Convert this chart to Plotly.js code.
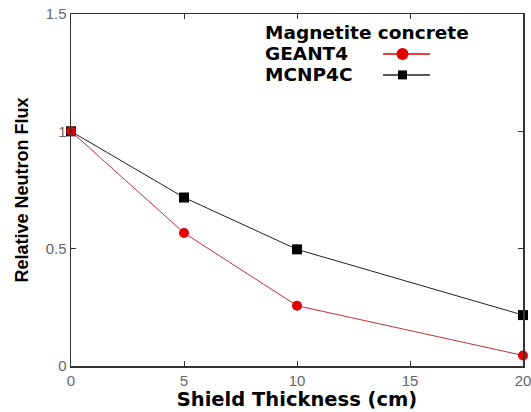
<!DOCTYPE html>
<html><head><meta charset="utf-8">
<script src="https://cdn.plot.ly/plotly-3.0.1.min.js"></script>
<style>html,body{margin:0;padding:0;background:#fff}</style>
</head><body>
<div id="chart" style="width:531px;height:412px"></div>
<script>
const thickness = [0, 5, 10, 20];
const geant4 = [1.0, 0.567, 0.257, 0.045];
const mcnp4c = [1.0, 0.718, 0.497, 0.217];
const xTicks = [0, 5, 10, 15, 20];
const yTicks = [0, 0.5, 1, 1.5];
const yTickText = ['0', '0.5', '1', '1.5'];

const W = 531, H = 412;
const m = {l: 71, r: 8, t: 14, b: 45.5};
const px = x => (x - m.l) / (W - m.l - m.r);
const py = y => 1 - (y - m.t) / (H - m.t - m.b);

const traces = [
  {x: thickness, y: mcnp4c, mode: 'lines+markers', name: 'MCNP4C', cliponaxis: false,
   line: {color: '#222', width: 1}, marker: {symbol: 'square', size: 10, color: '#000'}},
  {x: thickness, y: geant4, mode: 'lines+markers', name: 'GEANT4', cliponaxis: false,
   line: {color: '#c0303a', width: 1}, marker: {symbol: 'circle', size: 10, color: '#e00000'}}
];

const axisCommon = {
  showgrid: false, zeroline: false, showline: true, linecolor: '#333', linewidth: 1.5,
  mirror: 'ticks', ticks: 'inside', ticklen: 5, tickcolor: '#333',
  ticklabeloverflow: 'allow', automargin: false,
  tickfont: {family: 'Liberation Sans, Arial, sans-serif', size: 15, color: '#666'}
};

const legFont = {family: 'DejaVu Sans, sans-serif', size: 18.5, color: '#000', weight: 'bold'};
const layout = {
  width: W, height: H, margin: m, showlegend: false,
  paper_bgcolor: '#fff', plot_bgcolor: '#fff',
  xaxis: Object.assign({}, axisCommon, {range: [0, 20], tickvals: xTicks,
    title: {text: '<b>Shield Thickness (cm)</b>', standoff: 4,
      font: {family: 'DejaVu Sans, sans-serif', size: 19.5, color: '#000'}}}),
  yaxis: Object.assign({}, axisCommon, {range: [0, 1.5], tickvals: yTicks, ticktext: yTickText,
    title: {text: '<b>Relative Neutron Flux</b>', standoff: 12,
      font: {family: 'Liberation Sans, Arial, sans-serif', size: 18, color: '#000'}}}),
  annotations: [
    {xref: 'paper', yref: 'paper', x: px(263), y: py(33), xanchor: 'left', yanchor: 'middle',
     text: '<b>Magnetite concrete</b>', showarrow: false, font: legFont},
    {xref: 'paper', yref: 'paper', x: px(263), y: py(54), xanchor: 'left', yanchor: 'middle',
     text: '<b>GEANT4</b>', showarrow: false, font: legFont},
    {xref: 'paper', yref: 'paper', x: px(263), y: py(75), xanchor: 'left', yanchor: 'middle',
     text: '<b>MCNP4C</b>', showarrow: false, font: legFont}
  ],
  shapes: [
    {type: 'line', xref: 'paper', yref: 'paper', x0: px(383), x1: px(430), y0: py(54), y1: py(54),
     line: {color: '#e00000', width: 1.5}},
    {type: 'circle', xref: 'paper', yref: 'paper', x0: px(396.5), x1: px(408.5), y0: py(48), y1: py(60),
     fillcolor: '#e00000', line: {color: '#e00000', width: 0}},
    {type: 'line', xref: 'paper', yref: 'paper', x0: px(383), x1: px(430), y0: py(75), y1: py(75),
     line: {color: '#222', width: 1.5}},
    {type: 'rect', xref: 'paper', yref: 'paper', x0: px(398), x1: px(407), y0: py(70.5), y1: py(79.5),
     fillcolor: '#000', line: {color: '#000', width: 0}}
  ]
};

Plotly.newPlot('chart', traces, layout, {displayModeBar: false, staticPlot: true});
</script>
</body></html>
